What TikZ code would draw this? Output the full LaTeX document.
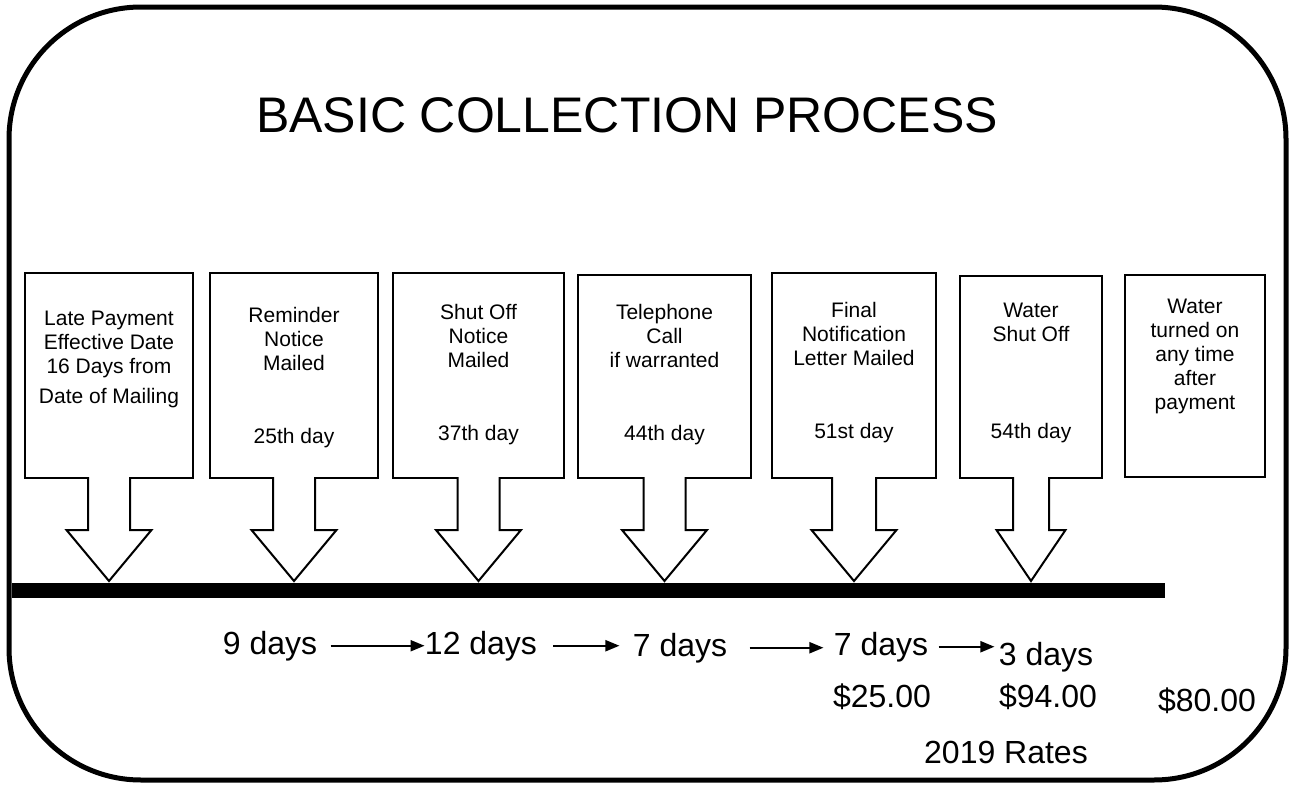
\documentclass[tikz,border=0pt]{standalone}
\usepackage{fontspec}
\setmainfont{Liberation Sans}
\usetikzlibrary{arrows.meta,calc,positioning}

\begin{document}
\begin{tikzpicture}[
    x=0.5pt,y=-0.5pt,
    font=\fontsize{10.5}{12}\selectfont,
    frame/.style={draw,line width=2.5pt,rounded corners=66pt},
    notice/.style={draw,line width=1pt,fill=white,inner sep=0pt},
    shaft/.style={draw,line width=1pt,fill=white,line join=miter},
    boxtext/.style={align=center,inner sep=0pt},
    interval/.style={font=\fontsize{16}{18}\selectfont,inner sep=0pt,anchor=base},
    lead/.style={-{Triangle[length=7pt,width=5.5pt]},line width=1pt},
  ]
  \useasboundingbox (0,0) rectangle (1292,787);
  \draw[frame] (9,7) rectangle (1286,780);
  \node[font=\fontsize{25}{30}\selectfont,anchor=base] (title) at (627,132) {BASIC COLLECTION PROCESS};

  \node[notice,minimum width=84pt,minimum height=102.5pt] (late) at (109,375.5) {};
  \node[notice,minimum width=84pt,minimum height=102.5pt] (remind) at (294,375.5) {};
  \node[notice,minimum width=85.5pt,minimum height=102.5pt] (notice) at (478.5,375.5) {};
  \node[notice,minimum width=86.5pt,minimum height=101.5pt] (phone) at (664.5,376.5) {};
  \node[notice,minimum width=82pt,minimum height=102.5pt] (final) at (854,375.5) {};
  \node[notice,minimum width=71pt,minimum height=101pt] (shutoff) at (1031,377) {};
  \node[notice,minimum width=70pt,minimum height=101pt] (turnon) at (1195,376) {};

  \draw[shaft] ($(late.south)+(21,-2)$) -- ++(0,53) -- ++(21.5,0) -- ++(-42.5,51) -- ++(-42.5,-51) -- ++(21.5,0) -- ++(0,-53);
  \draw[shaft] ($(remind.south)+(21,-2)$) -- ++(0,53) -- ++(21.5,0) -- ++(-42.5,51) -- ++(-42.5,-51) -- ++(21.5,0) -- ++(0,-53);
  \draw[shaft] ($(notice.south)+(21,-2)$) -- ++(0,53) -- ++(21.5,0) -- ++(-42.5,51) -- ++(-42.5,-51) -- ++(21.5,0) -- ++(0,-53);
  \draw[shaft] ($(phone.south)+(21,-2)$) -- ++(0,53) -- ++(21.5,0) -- ++(-42.5,51) -- ++(-42.5,-51) -- ++(21.5,0) -- ++(0,-53);
  \draw[shaft] ($(final.south)+(22,-2)$) -- ++(0,53) -- ++(20.5,0) -- ++(-42.5,51) -- ++(-42.5,-51) -- ++(20.5,0) -- ++(0,-53);
  \draw[shaft] ($(shutoff.south)+(18,-2)$) -- ++(0,53) -- ++(16.5,0) -- ++(-34.5,51) -- ++(-34.5,-51) -- ++(16.5,0) -- ++(0,-53);

  \fill (12,583) rectangle (1165,598);

  \node[boxtext] (latetxt) at (109,359) {Late Payment\\Effective Date\\16 Days from\\[3pt]Date of Mailing};
  \node[boxtext] (remindtxt) at (294,339) {Reminder\\Notice\\Mailed};
  \node (remindday) at (294,438) {25th day};
  \node[boxtext] (noticetxt) at (478.5,336) {Shut Off\\Notice\\Mailed};
  \node (noticeday) at (478.5,435) {37th day};
  \node[boxtext] (phonetxt) at (664.5,336) {Telephone\\Call\\if warranted};
  \node (phoneday) at (664.5,435) {44th day};
  \node[boxtext] (finaltxt) at (854,334) {Final\\Notification\\Letter Mailed};
  \node (finalday) at (854,433) {51st day};
  \node[boxtext] (shutofftxt) at (1031,322) {Water\\Shut Off};
  \node (shutoffday) at (1031,433) {54th day};
  \node[boxtext] (turnontxt) at (1195,356) {Water\\turned on\\any time\\after\\payment};

  \node[interval] (nine) at (270,654) {9 days};
  \node[interval] (twelve) at (481,654) {12 days};
  \node[interval] (sevena) at (680,656) {7 days};
  \node[interval] (sevenb) at (881,655) {7 days};
  \node[interval] (three) at (1046,665) {3 days};
  \node[interval] (feea) at (882,707) {\$25.00};
  \node[interval] (feeb) at (1048,707) {\$94.00};
  \node[interval] (feec) at (1207,711) {\$80.00};
  \node[interval] (rates) at (1006,763) {2019 Rates};

  \draw[lead,shorten <=6.5pt] (nine.east) -- (twelve.west);
  \draw[lead,shorten <=8pt,shorten >=6.5pt] (twelve.east) -- (twelve.east -| sevena.west);
  \draw[lead,shorten <=11pt,shorten >=5pt] (sevena.east) -- (sevena.east -| sevenb.west);
  \draw[lead,shorten <=5pt,shorten >=2pt] (sevenb.east) -- (sevenb.east -| three.west);
\end{tikzpicture}
\end{document}
